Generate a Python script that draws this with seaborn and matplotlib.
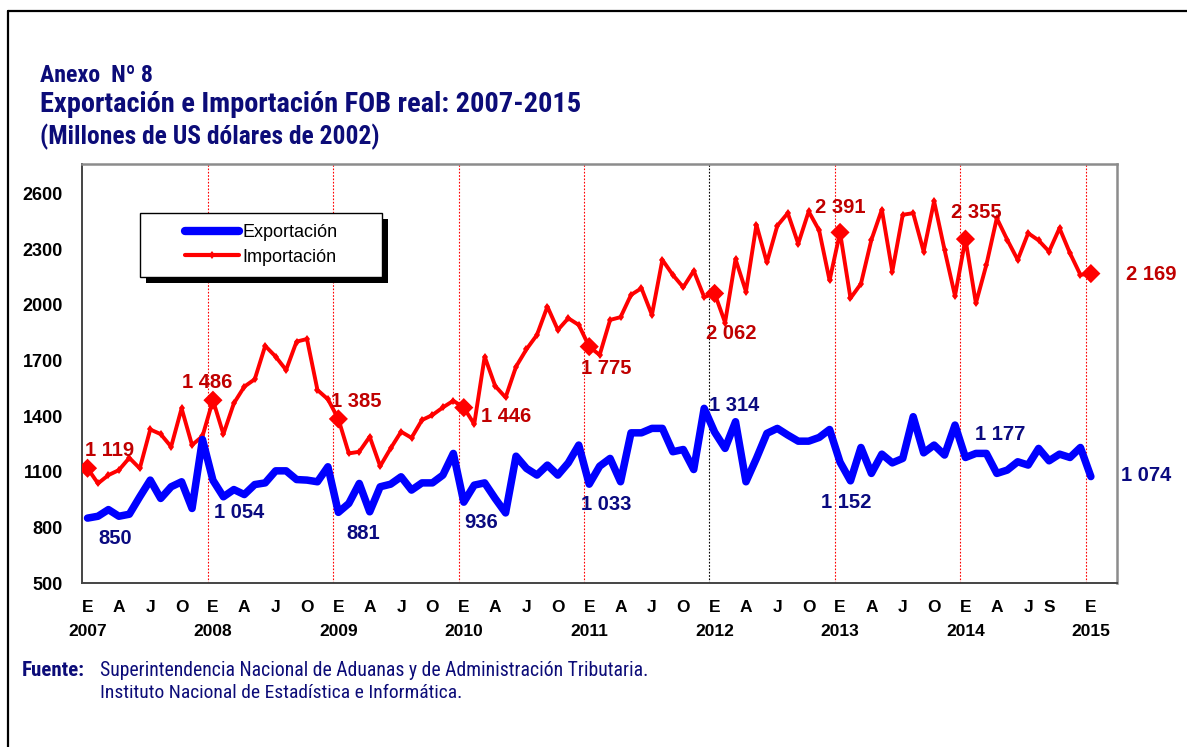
import numpy as np
import pandas as pd
import matplotlib
matplotlib.use('Agg')
import matplotlib.pyplot as plt
import seaborn as sns
from matplotlib import font_manager
from matplotlib.font_manager import FontProperties
from matplotlib.lines import Line2D
from matplotlib.patches import Rectangle

# =========================
# Data (monthly, Jan 2007 - Jan 2015)
# =========================
importacion = [
    1119, 1037, 1082, 1109, 1175, 1118, 1328, 1303, 1235, 1442, 1244, 1292,
    1486, 1303, 1469, 1559, 1599, 1779, 1721, 1649, 1802, 1816, 1541, 1491,
    1385, 1199, 1208, 1289, 1130, 1226, 1316, 1283, 1379, 1406, 1447, 1483,
    1446, 1357, 1721, 1563, 1501, 1667, 1761, 1838, 1991, 1865, 1928, 1892,
    1775, 1730, 1919, 1934, 2054, 2090, 1946, 2243, 2162, 2095, 2184, 2042,
    2062, 1905, 2247, 2072, 2432, 2229, 2427, 2495, 2330, 2504, 2402, 2132,
    2391, 2036, 2114, 2351, 2514, 2180, 2486, 2495, 2288, 2559, 2297, 2049,
    2355, 2009, 2216, 2468, 2351, 2243, 2387, 2348, 2288, 2414, 2279, 2162,
    2169,
]
exportacion = [
    850, 860, 896, 860, 871, 965, 1055, 956, 1019, 1046, 902, 1274,
    1054, 965, 1004, 977, 1031, 1040, 1105, 1105, 1058, 1055, 1046, 1127,
    881, 929, 1037, 884, 1019, 1033, 1073, 1001, 1040, 1040, 1082, 1199,
    936, 1028, 1040, 956, 878, 1184, 1118, 1082, 1136, 1082, 1148, 1244,
    1033, 1130, 1172, 1046, 1310, 1310, 1334, 1334, 1208, 1220, 1112, 1442,
    1314, 1226, 1370, 1046, 1172, 1307, 1334, 1298, 1265, 1265, 1285, 1328,
    1152, 1051, 1231, 1091, 1195, 1148, 1172, 1397, 1202, 1244, 1190, 1352,
    1177, 1199, 1199, 1091, 1109, 1154, 1136, 1226, 1159, 1195, 1177, 1231,
    1074,
]
mes = np.arange(len(importacion))

# labelled points (every January)
idx_label = [0, 12, 24, 36, 48, 60, 72, 84, 96]

# x tick labels (month initials) and years
tick_pos = [0, 3, 6, 9, 12, 15, 18, 21, 24, 27, 30, 33, 36, 39, 42, 45,
            48, 51, 54, 57, 60, 63, 66, 69, 72, 75, 78, 81, 84, 87, 90, 92, 96]
tick_mes = ['E', 'A', 'J', 'O'] * 7 + ['E', 'A', 'J', 'S', 'E']
anios = ['2007', '2008', '2009', '2010', '2011', '2012', '2013', '2014', '2015']

# =========================
# Style
# =========================
sns.set_style('white')
plt.rcParams['font.family'] = ['Liberation Sans', 'DejaVu Sans']


def narrow_font(bold):
    # look for a condensed sans face, fall back to Liberation Sans
    pref = ['Liberation Sans Narrow', 'Arial Narrow', 'Roboto Condensed',
            'Open Sans Condensed', 'Noto Sans', 'Open Sans', 'Roboto', 'DejaVu Sans']
    fonts = font_manager.fontManager.ttflist
    for name in pref:
        for f in fonts:
            if f.name != name or f.style != 'normal':
                continue
            cond = ('Narrow' in name or 'Condensed' in name
                    or f.stretch in ('condensed', 'semi-condensed'))
            w = f.weight if isinstance(f.weight, int) else (700 if f.weight == 'bold' else 400)
            if cond and ((w >= 600) == bold):
                return FontProperties(fname=f.fname)
    return FontProperties(family='Liberation Sans', weight='bold' if bold else 'normal')


NARROW_B = narrow_font(True)
NARROW_R = narrow_font(False)

W, H = 1187, 747
NAVY = '#0c0c78'
DARKRED = '#c00000'
EXP_TXT = '#0a0a80'


def fx(px):
    return px / W


def fy(py):
    return 1 - py / H


fig = plt.figure(figsize=(W / 100, H / 100), dpi=100)
ax = fig.add_axes([fx(82.3), fy(583), (1117 - 82.3) / W, (583 - 164) / H])

df = pd.DataFrame({'mes': mes, 'Exportación': exportacion, 'Importación': importacion})

# =========================
# Lines
# =========================
sns.lineplot(data=df, x='mes', y='Importación', color='#ff0000', lw=2.8,
             marker='d', markersize=4.5, markeredgewidth=0, ax=ax, zorder=3)
sns.lineplot(data=df, x='mes', y='Exportación', color='#0000ff', lw=5.4,
             solid_capstyle='round', solid_joinstyle='round', ax=ax, zorder=4)
sns.scatterplot(data=df.iloc[idx_label], x='mes', y='Importación', marker='D',
                s=95, color='#ff0000', edgecolor='none', ax=ax, zorder=5)

# year separators
for k in range(1, len(anios)):
    x = 12 * k - 0.5
    ax.axvline(x, color='black' if anios[k] == '2012' else '#ff0000',
               lw=0.8, ls=(0, (1.5, 1.5)), zorder=1)

# data labels
imp_off = [(22.5, -18), (-6, -18), (18, -17), (42.5, 9), (17, 22),
           (17, 40), (0, -25), (11, -27), (60, 1)]
exp_off = [(28, 20), (26, 32), (25, 21), (17, 20), (17, 20),
           (20, -27), (6.5, 40), (35, -23), (55, -1)]


def fmt(v):
    return f'{v:,}'.replace(',', ' ')


for i, (dx, dy) in zip(idx_label, imp_off):
    ax.annotate(fmt(importacion[i]), (i, importacion[i]), xytext=(dx * 0.72, -dy * 0.72),
                textcoords='offset points', ha='center', va='center',
                fontsize=14.5, fontweight='bold', color=DARKRED, zorder=6)
for i, (dx, dy) in zip(idx_label, exp_off):
    ax.annotate(fmt(exportacion[i]), (i, exportacion[i]), xytext=(dx * 0.72, -dy * 0.72),
                textcoords='offset points', ha='center', va='center',
                fontsize=14.5, fontweight='bold', color=EXP_TXT, zorder=6)

# =========================
# Axes
# =========================
ax.set_xlim(-0.5, 98.5)
ax.set_ylim(500, 2760)
ax.set_yticks(range(500, 2700, 300))
ax.set_xticks(np.arange(5.5, 98, 6))
ax.set_xticklabels([])
xlabels = []
for p, m in zip(tick_pos, tick_mes):
    xlabels.append(m + '\n' + anios[p // 12] if m == 'E' else m)
ax.set_xticks(tick_pos, minor=True)
ax.set_xticklabels(xlabels, minor=True, fontsize=12.5, fontweight='bold',
                   linespacing=1.75, va='top', color='black')
ax.tick_params(axis='x', which='minor', length=0, pad=12)
ax.tick_params(axis='x', which='major', length=4, width=1, color='#555555', direction='out')
ax.tick_params(axis='y', length=4, width=1, color='#555555', direction='out', pad=10,
               labelsize=13, labelcolor='black')
for t in ax.get_yticklabels():
    t.set_fontweight('bold')
ax.set_xlabel('')
ax.set_ylabel('')
for s in ['top', 'right']:
    ax.spines[s].set_color('#8c8c8c')
    ax.spines[s].set_linewidth(1.8)
for s in ['left', 'bottom']:
    ax.spines[s].set_color('#444444')
    ax.spines[s].set_linewidth(1.4)

# =========================
# Legend (box with black shadow)
# =========================
ax.add_patch(Rectangle((fx(146), fy(283)), (382 - 140) / W, (277 - 213) / H,
                       transform=fig.transFigure, facecolor='black', edgecolor='none',
                       clip_on=False, zorder=6))
ax.add_patch(Rectangle((fx(140), fy(277)), (382 - 140) / W, (277 - 213) / H,
                       transform=fig.transFigure, facecolor='white', edgecolor='black',
                       lw=1, clip_on=False, zorder=6.5))
handles = [Line2D([], [], color='#0000ff', lw=6, solid_capstyle='round'),
           Line2D([], [], color='#ff0000', lw=3, marker='d', markersize=4.5,
                  markeredgewidth=0, solid_capstyle='round')]
leg = ax.legend(handles, ['Exportación', 'Importación'], loc='center',
                bbox_to_anchor=(fx(261), fy(245)), bbox_transform=fig.transFigure,
                frameon=False, fontsize=13, handlelength=3.0, handletextpad=0.2,
                labelspacing=0.4, borderpad=0)
leg.set_zorder(7)
for t in leg.get_texts():
    t.set_color('black')

# =========================
# Titles and source
# =========================
renderer = fig.canvas.get_renderer()


def fit_text(x_px, y_px, s, target_w, fp, size, color):
    fp = fp.copy()
    fp.set_size(size)
    t = fig.text(fx(x_px), fy(y_px), s, va='baseline', ha='left',
                 fontproperties=fp, color=color)
    w = t.get_window_extent(renderer).width
    t.set_fontsize(size * target_w / w)
    return t


fit_text(40, 82, 'Anexo  Nº 8', 113, NARROW_B, 16, NAVY)
fit_text(40, 112, 'Exportación e Importación FOB real: 2007-2015', 540, NARROW_B, 18, NAVY)
fit_text(40, 144, '(Millones de US dólares de 2002)', 339, NARROW_B, 16, NAVY)
fit_text(22, 676, 'Fuente:', 63, NARROW_B, 13, NAVY)
fit_text(100, 676, 'Superintendencia Nacional de Aduanas y de Administración Tributaria.', 548,
         NARROW_R, 13, NAVY)
fit_text(100, 698, 'Instituto Nacional de Estadística e Informática.', 360, NARROW_R, 13, NAVY)

# outer frame (top and left edges)
fig.add_artist(Line2D([fx(8), 1], [fy(11), fy(11)], color='black', lw=1.6))
fig.add_artist(Line2D([fx(8), fx(8)], [fy(11), 0], color='black', lw=1.6))

fig.savefig('out.png', dpi=100)
